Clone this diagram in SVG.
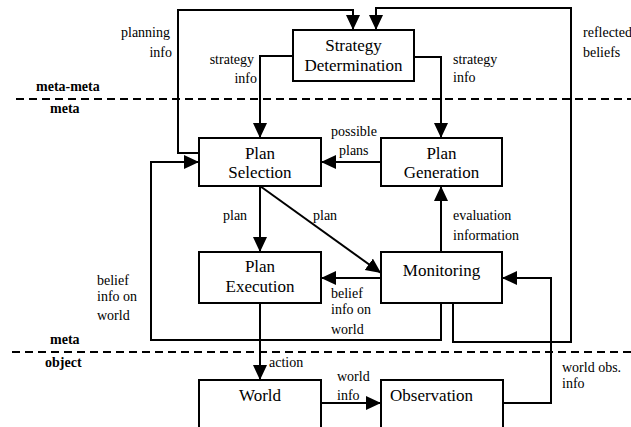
<svg xmlns="http://www.w3.org/2000/svg" width="631" height="427" viewBox="0 0 631 427">
<style>
.box{fill:#fff;stroke:#000;stroke-width:2}
.c{fill:none;stroke:#000;stroke-width:2}
.dash{fill:none;stroke:#000;stroke-width:2;stroke-dasharray:8,5}
text{font-family:Tinos,'Liberation Serif','Noto Serif','DejaVu Serif',FreeSerif,'Times New Roman',Times,serif;fill:#000}
.t{font-size:17px}
.l{font-size:14px}
.b{font-size:14px;font-weight:bold}
</style>
<defs>
<marker id="arr" markerUnits="userSpaceOnUse" markerWidth="16" markerHeight="16" refX="15" refY="7" orient="auto">
<path d="M0,0 L15,7 L0,14 z" fill="#000"/>
</marker>
</defs>
<rect width="631" height="427" fill="#fff"/>
<g id="levels">
<line class="dash" x1="16" y1="99" x2="631" y2="99"/>
<line class="dash" x1="12" y1="352" x2="631" y2="352"/>
<text class="b" x="36" y="91">meta-meta</text>
<text class="b" x="50" y="113">meta</text>
<text class="b" x="50" y="344">meta</text>
<text class="b" x="45" y="367">object</text>
</g>
<g id="connectors">
<path class="c" d="M199,153 H178 V10 H353 V30" marker-end="url(#arr)"/>
<path class="c" d="M453,303 V342 H571 V8 H376 V30" marker-end="url(#arr)"/>
<path class="c" d="M293,56 H260 V138" marker-end="url(#arr)"/>
<path class="c" d="M414,57 H441 V138" marker-end="url(#arr)"/>
<path class="c" d="M381,162 H321" marker-end="url(#arr)"/>
<path class="c" d="M260,186 V252" marker-end="url(#arr)"/>
<path class="c" d="M260,186 L381,273" marker-end="url(#arr)"/>
<path class="c" d="M441,252 V186" marker-end="url(#arr)"/>
<path class="c" d="M381,278 H321" marker-end="url(#arr)"/>
<path class="c" d="M441,303 V340 H151 V162 H199" marker-end="url(#arr)"/>
<path class="c" d="M260,303 V380" marker-end="url(#arr)"/>
<path class="c" d="M321,403 H381" marker-end="url(#arr)"/>
<path class="c" d="M503,403 H551 V278 H502" marker-end="url(#arr)"/>
<text class="l" x="170" y="37" text-anchor="end">planning</text>
<text class="l" x="172" y="57" text-anchor="end">info</text>
<text class="l" x="254" y="64" text-anchor="end">strategy</text>
<text class="l" x="257" y="83" text-anchor="end">info</text>
<text class="l" x="453" y="64">strategy</text>
<text class="l" x="453" y="82">info</text>
<text class="l" x="583" y="37">reflected</text>
<text class="l" x="583" y="57">beliefs</text>
<text class="l" x="331" y="136">possible</text>
<text class="l" x="339" y="155">plans</text>
<text class="l" x="223" y="220">plan</text>
<text class="l" x="313" y="220">plan</text>
<text class="l" x="453" y="220">evaluation</text>
<text class="l" x="453" y="240">information</text>
<text class="l" x="97" y="285">belief</text>
<text class="l" x="97" y="301">info on</text>
<text class="l" x="97" y="320">world</text>
<text class="l" x="331" y="298">belief</text>
<text class="l" x="331" y="314">info on</text>
<text class="l" x="331" y="334">world</text>
<text class="l" x="269" y="367">action</text>
<text class="l" x="337" y="381">world</text>
<text class="l" x="337" y="400">info</text>
<text class="l" x="562" y="372">world obs.</text>
<text class="l" x="562" y="388">info</text>
</g>
<g id="strategy-determination">
<rect class="box" x="293" y="30" width="121" height="51"/>
<text class="t" x="353.5" y="51" text-anchor="middle">Strategy</text>
<text class="t" x="353.5" y="71" text-anchor="middle">Determination</text>
</g>
<g id="plan-selection">
<rect class="box" x="199" y="138" width="122" height="48"/>
<text class="t" x="260" y="159" text-anchor="middle">Plan</text>
<text class="t" x="260" y="178" text-anchor="middle">Selection</text>
</g>
<g id="plan-generation">
<rect class="box" x="381" y="138" width="121" height="48"/>
<text class="t" x="441.5" y="159" text-anchor="middle">Plan</text>
<text class="t" x="441.5" y="178" text-anchor="middle">Generation</text>
</g>
<g id="plan-execution">
<rect class="box" x="199" y="252" width="122" height="51"/>
<text class="t" x="260" y="272" text-anchor="middle">Plan</text>
<text class="t" x="260" y="292" text-anchor="middle">Execution</text>
</g>
<g id="monitoring">
<rect class="box" x="381" y="252" width="121" height="51"/>
<text class="t" x="441.5" y="276" text-anchor="middle">Monitoring</text>
</g>
<g id="world">
<rect class="box" x="199" y="380" width="122" height="60"/>
<text class="t" x="260" y="401" text-anchor="middle">World</text>
</g>
<g id="observation">
<rect class="box" x="381" y="380" width="122" height="60"/>
<text class="t" x="390" y="401">Observation</text>
</g>
</svg>
